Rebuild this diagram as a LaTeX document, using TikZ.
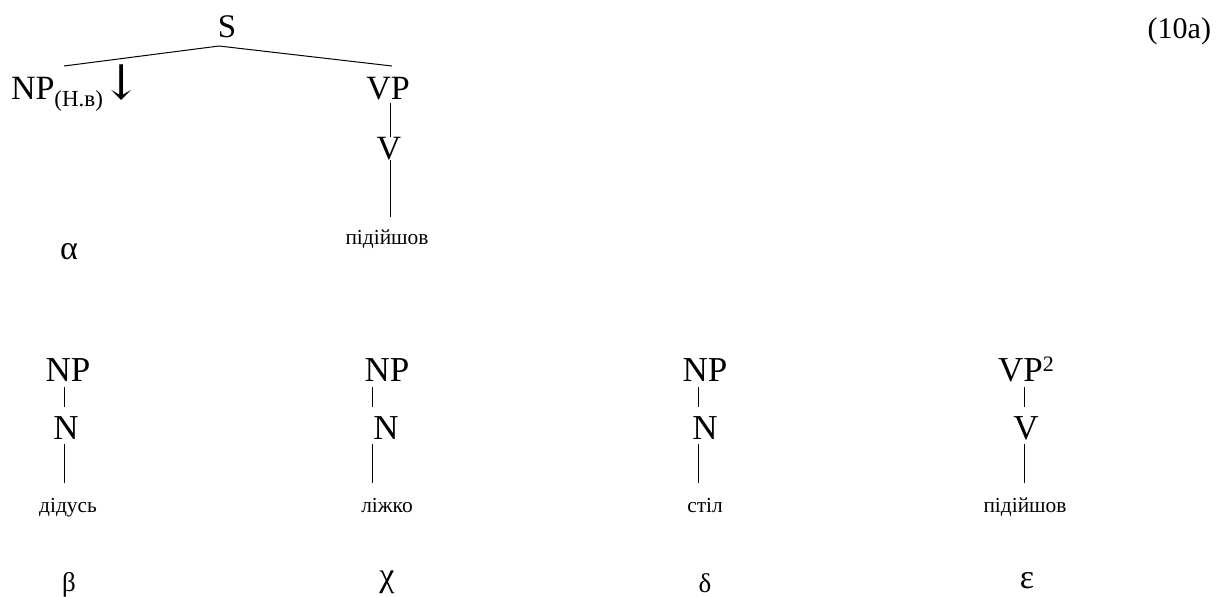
\documentclass[tikz,border=0pt]{standalone}
\usepackage{fontspec}
\setmainfont{Liberation Serif}
\newfontfamily\arrowfont{DejaVu Serif}
\begin{document}
\begin{tikzpicture}[x=0.5pt,y=-0.5pt,
  lab/.style={inner sep=0pt,outer sep=0pt,anchor=base,font=\fontsize{17}{20}\selectfont},
  labb/.style={inner sep=0pt,outer sep=0pt,anchor=base,font=\fontsize{17.5}{21}\selectfont},
  word/.style={inner sep=0pt,outer sep=0pt,anchor=base,font=\fontsize{10.7}{13}\selectfont},
  sgreek/.style={inner sep=0pt,outer sep=0pt,anchor=base,font=\fontsize{13.5}{16}\selectfont},
  edge/.style={draw=black,line width=0.5pt}]
\useasboundingbox (0,0) rectangle (1222,596);

% top tree
\node[lab,font=\fontsize{16.5}{20}\selectfont] (s) at (227,37) {S};
\node[lab,anchor=base west] (np0) at (11,99) {NP\raisebox{-3.5pt}{\fontsize{11.5}{13}\selectfont(Н.в)}\kern-1pt{\arrowfont\fontsize{24}{28}\selectfont ↓}};
\node[lab] (vp0) at (388,99) {VP};
\node[lab] (v0) at (389,159) {V};
\node[word] (w0) at (387,244) {підійшов};
\node[lab] (alpha) at (69,259) {α};
\node[lab,anchor=base east,font=\fontsize{15}{18}\selectfont] (num) at (1211,38) {(10a)};

\draw[edge] ([xshift=-4pt,yshift=-4.5pt]s.base) -- ([xshift=26.5pt,yshift=16.5pt]np0.base west);
\draw[edge] ([xshift=-4pt,yshift=-4.5pt]s.base) -- ([xshift=2pt,yshift=16.5pt]vp0.base);
\draw[edge] ([xshift=1pt,yshift=-2pt]vp0.base) -- ([xshift=0.5pt,yshift=11pt]v0.base);
\draw[edge] ([xshift=0.5pt,yshift=-0.5pt]v0.base) -- ([xshift=1.5pt,yshift=13.5pt]w0.base);

% bottom trees
\node[labb] (np1) at (68,381) {NP};
\node[labb] (n1) at (66,439) {N};
\node[word] (w1) at (68,512) {дідусь};
\node[sgreek] (g1) at (69,591) {β};

\node[labb] (np2) at (387,381) {NP};
\node[labb] (n2) at (386,439) {N};
\node[word] (w2) at (387,512) {ліжко};
\node[lab] (g2) at (387,586) {χ};

\node[labb] (np3) at (705,381) {NP};
\node[labb] (n3) at (705,439) {N};
\node[word] (w3) at (705,512) {стіл};
\node[sgreek] (g3) at (705,592) {δ};

\node[labb] (vp4) at (1026,381) {VP\raisebox{5pt}{\fontsize{11}{13}\selectfont 2}};
\node[labb] (v4) at (1026,439) {V};
\node[word] (w4) at (1025,512) {підійшов};
\node[lab] (g4) at (1027,588) {ε};

% connectors: line x positions 64, 372, 698, 1024
\draw[edge] ([xshift=-2pt,yshift=-3pt]np1.base) -- ([xshift=-1pt,yshift=16pt]n1.base);
\draw[edge] ([xshift=-1pt,yshift=-2.5pt]n1.base) -- ([xshift=-2pt,yshift=14.5pt]w1.base);

\draw[edge] ([xshift=-7.5pt,yshift=-3pt]np2.base) -- ([xshift=-7pt,yshift=16pt]n2.base);
\draw[edge] ([xshift=-7pt,yshift=-2.5pt]n2.base) -- ([xshift=-7.5pt,yshift=14.5pt]w2.base);

\draw[edge] ([xshift=-3.5pt,yshift=-3pt]np3.base) -- ([xshift=-3.5pt,yshift=16pt]n3.base);
\draw[edge] ([xshift=-3.5pt,yshift=-2.5pt]n3.base) -- ([xshift=-3.5pt,yshift=14.5pt]w3.base);

\draw[edge] ([xshift=-1pt,yshift=-3pt]vp4.base) -- ([xshift=-1pt,yshift=16pt]v4.base);
\draw[edge] ([xshift=-1pt,yshift=-2.5pt]v4.base) -- ([xshift=-0.5pt,yshift=14.5pt]w4.base);
\end{tikzpicture}
\end{document}
